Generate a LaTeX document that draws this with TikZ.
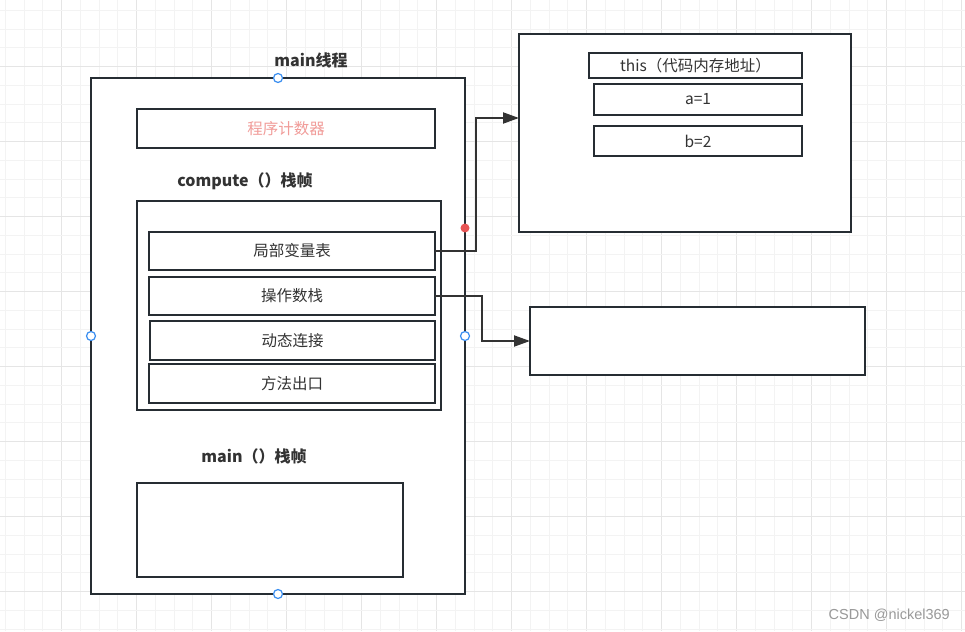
\documentclass[tikz,border=0pt]{standalone}
\usepackage{fontspec}
\setmainfont{Noto Sans CJK SC}
\newfontfamily\wmfont{Liberation Sans}
\usetikzlibrary{arrows.meta}
\definecolor{strokec}{HTML}{262D33}
\definecolor{txtc}{HTML}{333333}
\definecolor{pinkc}{HTML}{F19C99}
\definecolor{gridminor}{HTML}{F3F3F3}
\definecolor{gridmajor}{HTML}{E5E5E5}
\definecolor{handleblue}{HTML}{3A8EF0}
\definecolor{reddot}{HTML}{E85555}
\tikzset{
  box/.style={draw=strokec, line width=2.6pt, fill=white, inner sep=0pt, outer sep=0pt, text=txtc, font=\fontsize{15.5}{18}\selectfont},
  lbl/.style={text=txtc, font=\fontsize{16}{19}\selectfont\bfseries, inner sep=0pt},
  conn/.style={draw=txtc, line width=1.9pt, -{Triangle[length=16pt,width=11pt]}},
  handle/.style={circle, draw=handleblue, fill=white, line width=1.2pt, minimum size=9pt, inner sep=0pt},
  rdot/.style={circle, fill=reddot, minimum size=9pt, inner sep=0pt},
  gminor/.style={draw=gridminor, line width=1pt},
  gmajor/.style={draw=gridmajor, line width=1pt}
}
\begin{document}
\begin{tikzpicture}[x=1pt,y=-1pt]
\useasboundingbox (0,0) rectangle (965,631);
\fill[white] (0,0) rectangle (965,631);
% grid
\foreach \i in {0,...,51} {
  \pgfmathsetmacro\xx{5.45+18.75*\i}
  \pgfmathtruncatemacro\mm{mod(\i,4)}
  \ifnum\mm=3 \draw[gmajor] (\xx,0) -- (\xx,631); \else \draw[gminor] (\xx,0) -- (\xx,631); \fi
}
\foreach \i in {0,...,33} {
  \pgfmathsetmacro\yy{10.45+18.75*\i}
  \pgfmathtruncatemacro\mm{mod(\i,4)}
  \ifnum\mm=3 \draw[gmajor] (0,\yy) -- (965,\yy); \else \draw[gminor] (0,\yy) -- (965,\yy); \fi
}
% main thread
\node[box, minimum width=374pt, minimum height=516pt] (mainT) at (278,336) {};
\node[lbl] (mainTlbl) at (311,60) {main线程};
\node[box, minimum width=298pt, minimum height=39pt, text=pinkc] (pc) at (286,128.5) {程序计数器};
\node[lbl] (cflbl) at (245,181) {compute（）栈帧};
\node[box, minimum width=304pt, minimum height=209pt] (cf) at (289,305.5) {};
\node[box, minimum width=286pt, minimum height=38pt] (lvt) at (292,251) {局部变量表};
\node[box, minimum width=286pt, minimum height=38pt] (ops) at (292,296) {操作数栈};
\node[box, minimum width=285pt, minimum height=39pt] (dyn) at (292.5,340.5) {动态连接};
\node[box, minimum width=286pt, minimum height=39pt] (mex) at (292,383.5) {方法出口};
\node[lbl] (mflbl) at (254,456) {main（）栈帧};
\node[box, minimum width=266pt, minimum height=94pt] (mf) at (270,530) {};
% heap
\node[box, minimum width=332pt, minimum height=198pt] (heap) at (685,133) {};
\node[box, minimum width=213pt, minimum height=25pt] (thisb) at (695.5,65.5) {this（代码内存地址）};
\node[box, minimum width=208pt, minimum height=31pt] (ab) at (698,99.5) {a=1};
\node[box, minimum width=208pt, minimum height=30pt] (bb) at (698,141) {b=2};
\node[box, minimum width=335pt, minimum height=68pt] (rb) at (697.5,341) {};
% connectors
\coordinate (k1) at (476,118);
\coordinate (k2) at (482,341);
\draw[conn] (lvt.east) -| (k1) -- (k1 -| heap.west);
\draw[conn] (ops.east) -| (k2) -- (rb.west);
% handles
\node[handle] (h1) at (mainT.north) {};
\node[handle] (h2) at (mainT.west) {};
\node[handle] (h3) at (mainT.east) {};
\node[handle] (h4) at (mainT.south) {};
\node[rdot] (rd) at (465,228) {};
% watermark
\node[anchor=east, text=black!40, font=\wmfont\fontsize{14.5}{17}\selectfont, inner sep=0pt] (wm) at (950,615) {CSDN @nickel369};
\end{tikzpicture}
\end{document}
